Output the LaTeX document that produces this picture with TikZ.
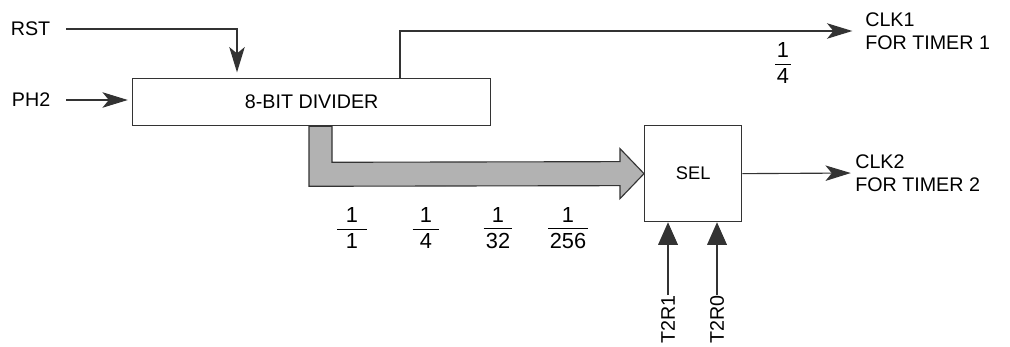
\documentclass[tikz,border=0pt]{standalone}
\usepackage{fontspec}
\setmainfont{Liberation Sans}
\usetikzlibrary{arrows.meta, positioning, calc}

\newcommand{\frc}[3]{\vbox{\hbox to #1{\hss#2\hss}\kern4pt\hrule height0.7pt\kern2.5pt\hbox to #1{\hss#3\hss}}}

\begin{document}
\begin{tikzpicture}[
    x=0.025cm, y=0.025cm,
    every node/.style = {font=\fontsize{14pt}{16.5pt}\selectfont},
    blk/.style   = {draw=black!80, line width=0.9pt, fill=white},
    lbl/.style   = {inner sep=0pt, align=left},
    inlbl/.style = {inner ysep=0pt, inner xsep=11pt, anchor=east},
    fr/.style    = {inner sep=0pt, font=\fontsize{15.5pt}{18pt}\selectfont},
    sig/.style   = {draw=black!80, line width=0.8pt, -{Stealth[length=18pt, width=11pt, inset=4.5pt]}},
    selin/.style = {draw=black!80, line width=0.8pt, -{Triangle[length=16pt, width=14pt]}},
    busarr/.style = {draw=black!80, line width=0.8pt, fill=gray!60},
]
\useasboundingbox (0,0) rectangle (1010,-347);

% --- Bloques ---
\node[blk, anchor=north west, inner sep=0pt,
      minimum width=8.95cm, minimum height=1.175cm] (div) at (132,-78) {8-BIT DIVIDER};
\node[blk, anchor=north west, inner sep=0pt, minimum width=2.425cm, minimum height=2.4cm,
      font=\fontsize{13pt}{15pt}\selectfont] (sel) at (644,-125) {SEL};

% --- Entradas ---
\node[inlbl] (rst) at (66,-29) {RST};
\node[inlbl] (ph2) at (66,-100) {PH2};
\coordinate (rstin) at ($(div.north west)+(105,0)$);

\draw[sig, shorten >=4pt] (rst.east) -| (rstin);
\draw[sig, shorten >=3pt] (ph2.east) -- (ph2.east -| div.west);

% --- Salidas ---
\node[lbl, anchor=west] (clk1) at (865,-31) {CLK1\\FOR TIMER 1};
\node[lbl, anchor=west] (clk2) at (855,-173) {CLK2\\FOR TIMER 2};
\coordinate (clkout) at ($(div.north west)+(268,0)$);

\draw[sig, shorten >=9pt] (clkout) |- (clk1.west);
\draw[sig, shorten >=3pt] (sel.east) -- (clk2.west);

% --- Bus hacia SEL ---
\coordinate (bus) at ($(div.south west)+(177,0)$);
\draw[busarr] (bus) -- ++(0,-60) -- ($(sel.west)+(-24,-12)$) -- ++(0,-13) -- (sel.west)
    -- ++(-24,25) -- ++(0,-13) -- ($(bus)+(23,-36)$) -- ($(bus)+(23,0)$) -- cycle;

% --- Fracciones ---
\node[fr] (f1)   at (352,-228) {\frc{21pt}{1}{1}};
\node[fr] (f4)   at (426,-228) {\frc{19pt}{1}{4}};
\node[fr] (f32)  at (498,-228) {\frc{20.5pt}{1}{32}};
\node[fr] (f256) at (568,-228) {\frc{28pt}{1}{256}};
\node[fr] (fclk) at (783,-63)  {\frc{11pt}{1}{4}};

% --- Selección ---
\node[lbl, rotate=90, anchor=east] (t2r1) at (668,-295) {T2R1};
\node[lbl, rotate=90, anchor=east] (t2r0) at (717,-295) {T2R0};

\draw[selin] (t2r1.east) -- (t2r1.east |- sel.south);
\draw[selin] (t2r0.east) -- (t2r0.east |- sel.south);

\end{tikzpicture}
\end{document}
